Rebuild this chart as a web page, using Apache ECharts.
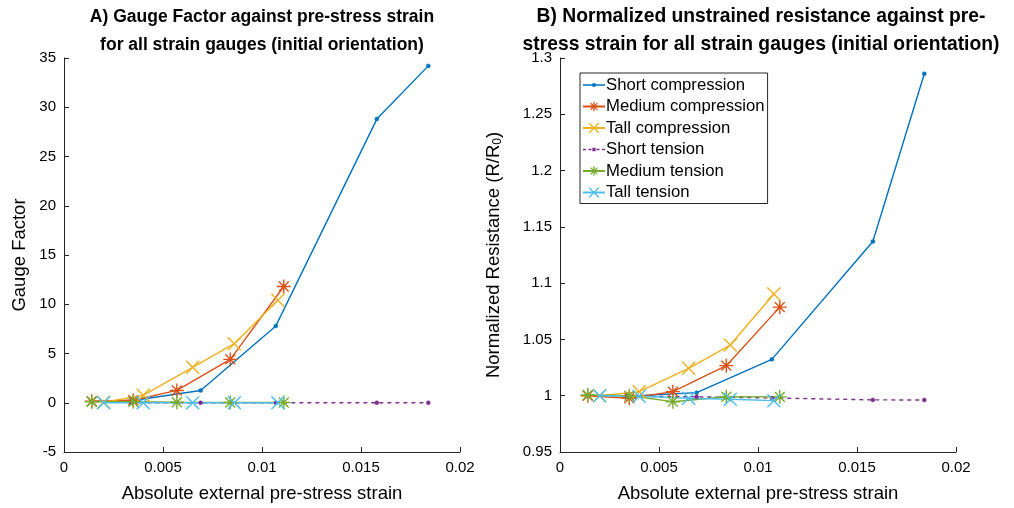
<!DOCTYPE html>
<html>
<head>
<meta charset="utf-8">
<script src="https://cdn.jsdelivr.net/npm/echarts@6/dist/echarts.min.js"></script>
<style>
  html, body { margin: 0; padding: 0; background: #fff; }
  #chart { width: 1014px; height: 508px; }
</style>
</head>
<body>
<div id="chart"></div>
<script>
// strains (absolute external pre-stress strain)
const shortStrain = [0.0034, 0.0069, 0.0107, 0.0158, 0.0184];
const mediumStrain = [0.0014, 0.0035, 0.0057, 0.0084, 0.0111];
const tallStrain = [0.002, 0.004, 0.0065, 0.0086, 0.0108];

// A) gauge factor
const gfShortComp = [0.2, 1.25, 7.8, 28.8, 34.2];
const gfMediumComp = [0.15, 0.25, 1.25, 4.4, 11.8];
const gfTallComp = [0.05, 0.75, 3.6, 6.0, 10.4];
const gfShortTens = [0, 0, 0, 0, 0];
const gfMediumTens = [0.1, 0.1, 0.05, 0.02, 0.02];
const gfTallTens = [0, 0, 0, 0, 0];

// B) normalized resistance R/R0
const rShortComp = [0.9995, 1.0027, 1.0323, 1.137, 1.286];
const rMediumComp = [1.0, 0.9977, 1.0036, 1.0267, 1.0787];
const rTallComp = [1.0, 1.0036, 1.0243, 1.045, 1.0904];
const rShortTens = [0.9995, 0.999, 0.998, 0.9963, 0.9962];
const rMediumTens = [1.0006, 1.0, 0.9947, 0.9991, 0.999];
const rTallTens = [1.0, 0.9995, 0.9977, 0.9968, 0.9956];

const names = ["Short compression", "Medium compression", "Tall compression",
  "Short tension", "Medium tension", "Tall tension"];
const colors = ["#0072BD", "#D95319", "#EDB120", "#7E2F8E", "#77AC30", "#4DBEEE"];

const STAR = "path://M0,-10L0,10M-10,0L10,0M-7.07,-7.07L7.07,7.07M-7.07,7.07L7.07,-7.07";
const CROSS = "path://M-10,-10L10,10M-10,10L10,-10";
// legend icons for the dot-marker series (line + small dot)
const DOT_SOLID = "path://M0,0L0,0M22,12L22,12M0,6L22,6M10,5L12,5L12,7L10,7Z";
const DOT_DASHED = "path://M0,0L0,0M22,12L22,12M0,6L3,6M5.5,6L8.5,6M13.5,6L16.5,6M19,6L22,6M10,5L12,5L12,7L10,7Z";

function pairs(xs, ys) {
  return xs.map((x, i) => [x, ys[i]]);
}

function makeSeries(idx, xs, ys, axis) {
  const c = colors[idx];
  const kind = idx % 3; // 0 short (dot), 1 medium (star), 2 tall (cross)
  let symbol, size, item;
  if (kind === 0) {
    symbol = "circle"; size = 4;
    item = { color: c, borderColor: c, borderWidth: 0.5 };
  } else {
    symbol = kind === 1 ? STAR : CROSS; size = kind === 1 ? 14 : 13;
    item = { color: c, borderColor: c, borderWidth: 1.4 };
  }
  return {
    name: names[idx],
    type: "line",
    xAxisIndex: axis,
    yAxisIndex: axis,
    data: pairs(xs, ys),
    symbol: symbol,
    symbolSize: size,
    showAllSymbol: true,
    animation: false,
    itemStyle: item,
    lineStyle: { color: c, width: 1.4, type: idx === 3 ? [4, 4] : "solid" },
    emphasis: { disabled: true },
  };
}

const legendData = names.map((n, i) => {
  const d = { name: n, itemStyle: { color: colors[i], borderColor: colors[i], borderWidth: 1.3 } };
  if (i === 0) d.icon = DOT_SOLID;
  if (i === 3) d.icon = DOT_DASHED;
  return d;
});

const axisColor = "#262626";
const font = "Liberation Sans, Arial, Helvetica, sans-serif";

function xAxisDef(idx) {
  return {
    type: "value", gridIndex: idx, min: 0, max: 0.02, interval: 0.005,
    name: "Absolute external pre-stress strain", nameLocation: "middle", nameGap: 32,
    nameTextStyle: { color: "#000", fontSize: 18.5, fontFamily: font },
    axisLine: { show: true, onZero: false, lineStyle: { color: axisColor, width: 1 } },
    axisTick: { show: true, inside: true, length: 5, lineStyle: { color: axisColor } },
    axisLabel: { color: "#000", fontSize: 15, fontFamily: font, margin: 8,
      formatter: (v) => String(Math.round(v * 1000) / 1000) },
    splitLine: { show: false },
  };
}

const chart = echarts.init(document.getElementById("chart"), null, { renderer: "canvas" });

const option = {
  backgroundColor: "#fff",
  color: colors,
  title: [
    {
      text: "A) Gauge Factor against pre-stress strain\nfor all strain gauges (initial orientation)",
      left: 262, top: 3, padding: 0, textAlign: "center",
      textStyle: { fontSize: 17.5, fontWeight: "bold", color: "#000", fontFamily: font, lineHeight: 28 },
    },
    {
      text: "B) Normalized unstrained resistance against pre-\nstress strain for all strain gauges (initial orientation)",
      left: 761, top: 3, padding: 0, textAlign: "center",
      textStyle: { fontSize: 19.3, fontWeight: "bold", color: "#000", fontFamily: font, lineHeight: 28 },
    },
  ],
  legend: {
    data: legendData,
    orient: "vertical",
    left: 580, top: 73,
    padding: [2, 3, 1, 2],
    itemWidth: 22, itemHeight: 12, itemGap: 1.5,
    borderColor: "#262626", borderWidth: 1,
    backgroundColor: "#fff",
    itemStyle: { borderWidth: 1.3 },
    textStyle: { fontSize: 16.7, lineHeight: 20, color: "#000", fontFamily: font, padding: [0, 0, 0, -4] },
    selectedMode: false,
  },
  grid: [
    { left: 64, right: 554, top: 58, bottom: 56, containLabel: false },
    { left: 560, right: 58, top: 58, bottom: 56, containLabel: false },
  ],
  xAxis: [xAxisDef(0), xAxisDef(1)],
  yAxis: [
    {
      type: "value", gridIndex: 0, min: -5, max: 35, interval: 5,
      name: "Gauge Factor", nameLocation: "middle", nameGap: 35,
      nameTextStyle: { color: "#000", fontSize: 18.5, fontFamily: font },
      axisLine: { show: true, onZero: false, lineStyle: { color: axisColor, width: 1 } },
      axisTick: { show: true, inside: true, length: 5, lineStyle: { color: axisColor } },
      axisLabel: { color: "#000", fontSize: 15, fontFamily: font, margin: 8 },
      splitLine: { show: false },
    },
    {
      type: "value", gridIndex: 1, min: 0.95, max: 1.3, interval: 0.05,
      name: "{a|Normalized Resistance (R/R}{s|0}{a|)}", nameLocation: "middle", nameGap: 56,
      nameTextStyle: {
        color: "#000", fontSize: 18.5, fontFamily: font,
        rich: {
          a: { fontSize: 18.5, fontFamily: font, color: "#000" },
          s: { fontSize: 12, fontFamily: font, color: "#000", verticalAlign: "bottom", padding: [9, 0, 0, 0] },
        },
      },
      axisLine: { show: true, onZero: false, lineStyle: { color: axisColor, width: 1 } },
      axisTick: { show: true, inside: true, length: 5, lineStyle: { color: axisColor } },
      axisLabel: { color: "#000", fontSize: 15, fontFamily: font, margin: 8,
        formatter: (v) => String(Math.round(v * 100) / 100) },
      splitLine: { show: false },
    },
  ],
  series: [
    makeSeries(0, shortStrain, gfShortComp, 0),
    makeSeries(1, mediumStrain, gfMediumComp, 0),
    makeSeries(2, tallStrain, gfTallComp, 0),
    makeSeries(3, shortStrain, gfShortTens, 0),
    makeSeries(4, mediumStrain, gfMediumTens, 0),
    makeSeries(5, tallStrain, gfTallTens, 0),
    makeSeries(0, shortStrain, rShortComp, 1),
    makeSeries(1, mediumStrain, rMediumComp, 1),
    makeSeries(2, tallStrain, rTallComp, 1),
    makeSeries(3, shortStrain, rShortTens, 1),
    makeSeries(4, mediumStrain, rMediumTens, 1),
    makeSeries(5, tallStrain, rTallTens, 1),
  ],
};

chart.setOption(option);
</script>
</body>
</html>
